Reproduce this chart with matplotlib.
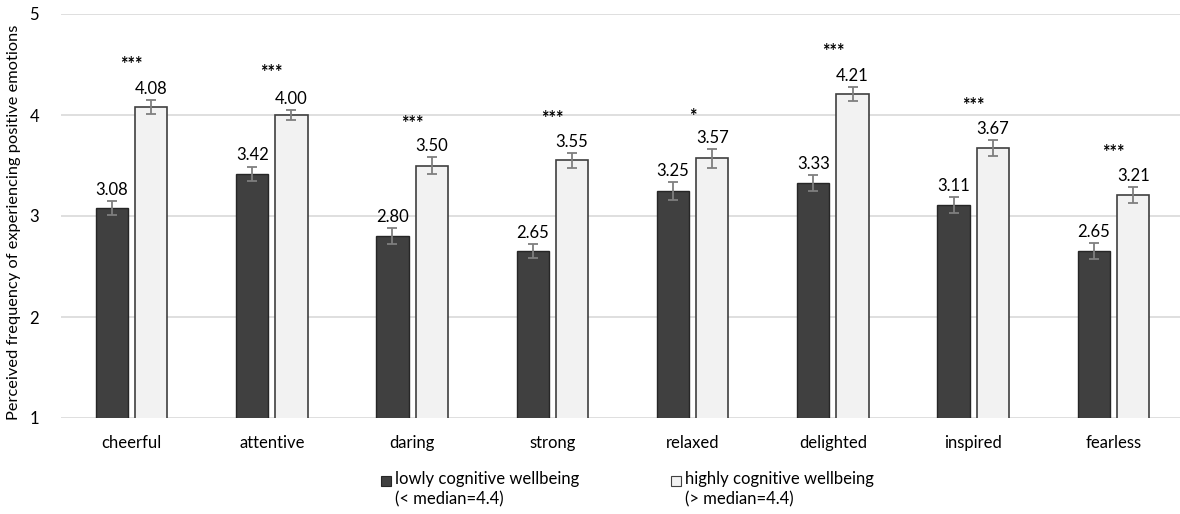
import numpy as np
import matplotlib
matplotlib.use("Agg")
import matplotlib.pyplot as plt
from matplotlib.patches import Rectangle

plt.rcParams["font.family"] = ["Lato", "DejaVu Sans"]

emotions = ["cheerful", "attentive", "daring", "strong",
            "relaxed", "delighted", "inspired", "fearless"]
low_wb = [3.08, 3.42, 2.80, 2.65, 3.25, 3.33, 3.11, 2.65]
high_wb = [4.08, 4.00, 3.50, 3.55, 3.57, 4.21, 3.67, 3.21]
low_err = [0.07, 0.07, 0.08, 0.07, 0.09, 0.08, 0.08, 0.08]
high_err = [0.07, 0.05, 0.08, 0.07, 0.09, 0.07, 0.08, 0.08]
signif = ["***", "***", "***", "***", "*", "***", "***", "***"]

legend_labels = ["lowly cognitive wellbeing\n(< median=4.4)",
                 "highly cognitive wellbeing\n(> median=4.4)"]

DARK = "#404040"
LIGHT = "#f2f2f2"
W, H = 1180, 514
FS = 12

fig = plt.figure(figsize=(W / 100, H / 100), dpi=100)
ax = fig.add_axes([61.4 / W, 96 / H, 1122.3 / W, 404 / H])

x = np.arange(len(emotions))
width = 0.23
off = 0.14

err_kw = dict(ecolor="#7f7f7f", elinewidth=1.3, capsize=3.5, capthick=1.3)
ax.bar(x - off, low_wb, width, yerr=low_err, color=DARK,
       edgecolor="#262626", linewidth=1.0, error_kw=err_kw, zorder=3)
ax.bar(x + off, high_wb, width, yerr=high_err, color=LIGHT,
       edgecolor="#404040", linewidth=1.2, error_kw=err_kw, zorder=3)

# value labels above the error bars, significance stars above each pair
for i in range(len(emotions)):
    ax.text(x[i] - off, low_wb[i] + low_err[i] + 0.03, f"{low_wb[i]:.2f}",
            ha="center", va="bottom", fontsize=FS)
    ax.text(x[i] + off, high_wb[i] + high_err[i] + 0.03, f"{high_wb[i]:.2f}",
            ha="center", va="bottom", fontsize=FS)
    ax.text(x[i], high_wb[i] + 0.42, signif[i], ha="center", va="center",
            fontsize=13, fontweight="bold")

ax.set_xlim(-0.5, len(emotions) - 0.5)
ax.set_ylim(1, 5)
ax.set_yticks([1, 2, 3, 4, 5])
ax.set_xticks(x)
ax.set_xticklabels(emotions)
ax.yaxis.grid(True, color="#d9d9d9", linewidth=1.2, zorder=0)
ax.set_axisbelow(True)
for s in ax.spines.values():
    s.set_visible(False)
ax.tick_params(axis="both", length=0, labelsize=FS, colors="#000000")
ax.tick_params(axis="y", pad=16)
ax.tick_params(axis="x", pad=12)
ax.set_ylabel("Perceived frequency of experiencing positive emotions",
              fontsize=11.8)
ax.yaxis.set_label_coords(-40 / 1122.3, 0.485)

# legend drawn by hand so the marker lines up with the first text line
for lx, color, ec, label in [(381, DARK, "#262626", legend_labels[0]),
                              (671, LIGHT, "#404040", legend_labels[1])]:
    fig.patches.append(Rectangle((lx / W, (H - 486) / H), 10 / W, 10 / H,
                                 facecolor=color, edgecolor=ec, linewidth=0.8,
                                 transform=fig.transFigure))
    fig.text((lx + 14) / W, (H - 471) / H, label, fontsize=FS,
             va="top", ha="left", linespacing=1.32)

fig.savefig("out.png", dpi=100)
